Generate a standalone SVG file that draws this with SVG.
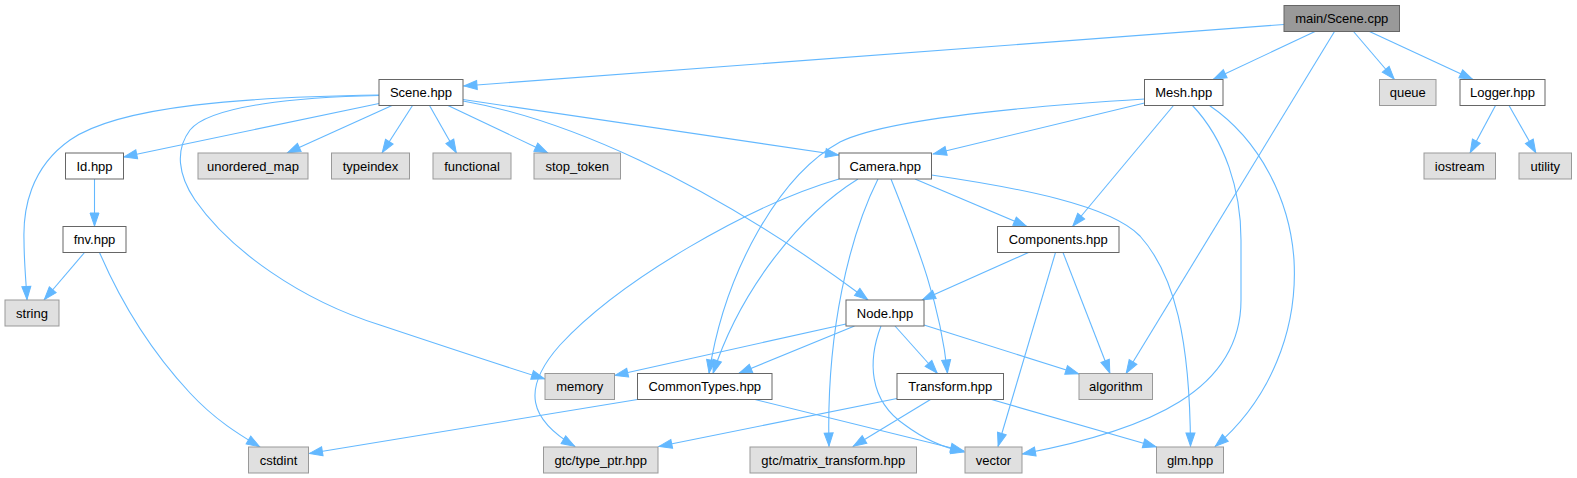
<svg xmlns="http://www.w3.org/2000/svg" width="1577" height="478" viewBox="0 0 1577 478">
<style>
.n rect{fill:#ffffff;stroke:#666666;stroke-width:1}
.x rect{fill:#e0e0e0;stroke:#999999;stroke-width:1}
.m rect{fill:#999999;stroke:#666666;stroke-width:1}
text{font-family:"Liberation Sans",Arial,Helvetica,sans-serif;font-size:13px;fill:#000000;text-anchor:middle}
#edges path{fill:none;stroke:#63b8ff;stroke-width:1.1;marker-end:url(#ah)}
</style>
<defs>
<marker id="ah" markerUnits="userSpaceOnUse" viewBox="0 0 14 10" markerWidth="14" markerHeight="10" refX="14" refY="5" orient="auto" overflow="visible">
<path d="M0.5,0.5 L13.5,5 L0.5,9.5 z" fill="#63b8ff" stroke="#63b8ff" stroke-width="1" stroke-linejoin="miter"/>
</marker>
</defs>
<rect width="1577" height="478" fill="#ffffff"/>
<g id="edges">
<path d="M1284,24.5 L463.5,86"/>
<path d="M1315,31.5 L1213,79.5"/>
<path d="M1334.5,31.5 L1126,373.5"/>
<path d="M1353.5,31.5 L1394.5,79.5"/>
<path d="M1369.5,31.5 L1473,79.5"/>
<path d="M1495.5,105.5 L1470,153"/>
<path d="M1509,105.5 L1536,153"/>
<path d="M379,95 C250,97 120,105 70,140 C30,168 23,210 24,240 C24,262 26,280 27,300"/>
<path d="M379,95.5 C300,97 210,105 190,130 C175,150 178,175 195,200 C230,250 300,300 380,325 C440,345 500,365 545,379"/>
<path d="M379,103.5 L123.5,157"/>
<path d="M392,105.5 L287,153"/>
<path d="M412.5,105.5 L382,153"/>
<path d="M429.5,105.5 L456.5,153"/>
<path d="M448,105.5 L548,153"/>
<path d="M463,99.5 L839,155"/>
<path d="M463,101 C560,118 700,175 868,300"/>
<path d="M1144.5,99 C1000,108 880,122 840,142 C780,175 725,270 709,373.5"/>
<path d="M1144.5,103 L933,154"/>
<path d="M1173.5,105.5 L1072.5,226.5"/>
<path d="M1192.5,105.5 C1225,140 1241,190 1241,240 L1241,300 C1241,390 1150,430 1022,454"/>
<path d="M1209.5,105.5 C1260,140 1290,200 1294,260 C1298,330 1270,400 1215,446.5"/>
<path d="M839,179 C750,205 620,280 560,345 C520,390 530,420 575,446.5"/>
<path d="M858,179 C800,215 740,290 713,373.5"/>
<path d="M878,179 C850,235 826,330 829,446.5"/>
<path d="M891,179 C915,240 940,300 947.5,373.5"/>
<path d="M915,179 L1027,226.5"/>
<path d="M931.5,175 C1020,188 1110,205 1140,236 C1175,275 1190,340 1190.5,446.5"/>
<path d="M1028.5,252.5 L922,300"/>
<path d="M1055.5,252.5 L998,446.5"/>
<path d="M1063,252.5 L1110,373.5"/>
<path d="M846,324 L614.5,375.5"/>
<path d="M854.5,326 L738.5,373.5"/>
<path d="M881,326 C868,360 868,400 905,425 C925,440 945,448 964.5,452"/>
<path d="M895,326 L937.5,373.5"/>
<path d="M924,325 L1079,374"/>
<path d="M637.5,399.5 L309,453.5"/>
<path d="M755,399.5 L964,451"/>
<path d="M897,398.5 L658.5,446.5"/>
<path d="M930.5,399.5 L853,446.5"/>
<path d="M991.5,399.5 L1156.5,447"/>
<path d="M94.5,179 L94.5,226.5"/>
<path d="M84.5,252.5 L44,300"/>
<path d="M99.5,252.5 C120,300 150,350 190,393 C215,420 240,435 260,447"/>
</g>
<g id="node-main" class="m"><rect x="1284" y="5.5" width="115.5" height="26"/><text x="1341.75" y="23">main/Scene.cpp</text></g>
<g id="node-scene" class="n"><rect x="379" y="79.5" width="84" height="26"/><text x="421" y="97">Scene.hpp</text></g>
<g id="node-mesh" class="n"><rect x="1144.5" y="79.5" width="78.5" height="26"/><text x="1183.75" y="97">Mesh.hpp</text></g>
<g id="node-queue" class="x"><rect x="1379.5" y="79.5" width="56.5" height="26"/><text x="1407.75" y="97">queue</text></g>
<g id="node-logger" class="n"><rect x="1460" y="79.5" width="85" height="26"/><text x="1502.5" y="97">Logger.hpp</text></g>
<g id="node-id" class="n"><rect x="65.5" y="153" width="58" height="26"/><text x="94.5" y="170.5">Id.hpp</text></g>
<g id="node-unordered_map" class="x"><rect x="198" y="153" width="110" height="26"/><text x="253" y="170.5">unordered_map</text></g>
<g id="node-typeindex" class="x"><rect x="331.5" y="153" width="78" height="26"/><text x="370.5" y="170.5">typeindex</text></g>
<g id="node-functional" class="x"><rect x="433" y="153" width="78" height="26"/><text x="472" y="170.5">functional</text></g>
<g id="node-stop_token" class="x"><rect x="534" y="153" width="86.5" height="26"/><text x="577.25" y="170.5">stop_token</text></g>
<g id="node-camera" class="n"><rect x="839" y="153" width="92.5" height="26"/><text x="885.25" y="170.5">Camera.hpp</text></g>
<g id="node-iostream" class="x"><rect x="1424" y="153" width="71.5" height="26"/><text x="1459.75" y="170.5">iostream</text></g>
<g id="node-utility" class="x"><rect x="1519" y="153" width="52.5" height="26"/><text x="1545.25" y="170.5">utility</text></g>
<g id="node-fnv" class="n"><rect x="63" y="226.5" width="63" height="26"/><text x="94.5" y="244">fnv.hpp</text></g>
<g id="node-components" class="n"><rect x="997.5" y="226.5" width="121.5" height="26"/><text x="1058.25" y="244">Components.hpp</text></g>
<g id="node-string" class="x"><rect x="5" y="300" width="54" height="26"/><text x="32" y="317.5">string</text></g>
<g id="node-node" class="n"><rect x="846" y="300" width="78" height="26"/><text x="885" y="317.5">Node.hpp</text></g>
<g id="node-memory" class="x"><rect x="545" y="373.5" width="69.5" height="26"/><text x="579.75" y="391">memory</text></g>
<g id="node-commontypes" class="n"><rect x="637.5" y="373.5" width="134.5" height="26"/><text x="704.75" y="391">CommonTypes.hpp</text></g>
<g id="node-transform" class="n"><rect x="897" y="373.5" width="106.5" height="26"/><text x="950.25" y="391">Transform.hpp</text></g>
<g id="node-algorithm" class="x"><rect x="1079" y="373.5" width="73.5" height="26"/><text x="1115.75" y="391">algorithm</text></g>
<g id="node-cstdint" class="x"><rect x="248.5" y="447" width="60" height="26"/><text x="278.5" y="464.5">cstdint</text></g>
<g id="node-type_ptr" class="x"><rect x="543.5" y="447" width="114.5" height="26"/><text x="600.75" y="464.5">gtc/type_ptr.hpp</text></g>
<g id="node-matrix_transform" class="x"><rect x="750" y="447" width="166.5" height="26"/><text x="833.25" y="464.5">gtc/matrix_transform.hpp</text></g>
<g id="node-vector" class="x"><rect x="965" y="447" width="57" height="26"/><text x="993.5" y="464.5">vector</text></g>
<g id="node-glm" class="x"><rect x="1156.5" y="447" width="67" height="26"/><text x="1190" y="464.5">glm.hpp</text></g>
</svg>
